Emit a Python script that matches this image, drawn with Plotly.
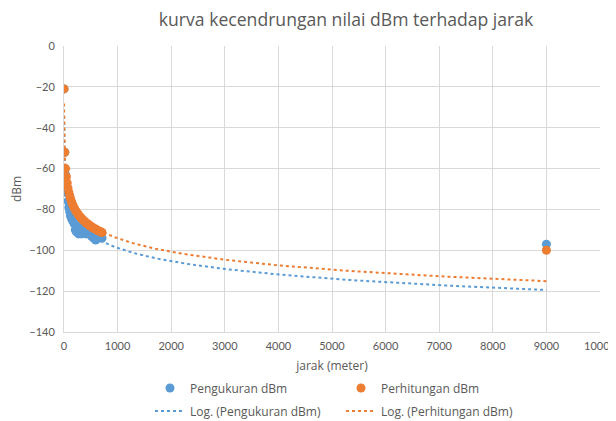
"""Scatter of measured vs calculated dBm against distance, with Excel-style log trendlines."""

import numpy as np
import plotly.graph_objects as go

BLUE = "#5B9BD5"
ORANGE = "#ED7D31"
INK = "#595959"
GRID = "#D9D9D9"
FONT = "Open Sans"

# measured (Pengukuran) points
ukur_jarak = [1, 15, 30, 45, 60, 75, 90, 105, 120, 135,
              150, 170, 190, 210, 230, 250, 270, 290, 310, 330,
              350, 370, 390, 410, 430, 450, 470, 490, 510, 530,
              550, 570, 590, 610, 630, 650, 670, 690, 710, 9000]
ukur_dbm = [-21, -52, -63, -68, -72, -76, -79, -81, -83, -84,
            -85, -86, -87, -90, -91, -90, -92, -91, -89, -92,
            -91, -90, -91, -92, -91, -90, -91, -92, -93, -92,
            -94, -93, -95, -94, -93, -92, -94, -93, -94, -97]

# calculated (Perhitungan) points
hitung_jarak = [1, 15, 30, 45, 60, 75, 90, 105, 120, 135,
                150, 170, 190, 210, 230, 250, 270, 290, 310, 330,
                350, 370, 390, 410, 430, 450, 470, 490, 510, 530,
                550, 570, 590, 610, 630, 650, 670, 690, 710, 9000]
hitung_dbm = [-21, -52, -60, -64, -67, -69.5, -71.5, -73, -74.5, -75.8,
              -77, -78.2, -79.3, -80.3, -81.1, -81.9, -82.6, -83.3, -83.9, -84.5,
              -85, -85.5, -86, -86.5, -86.9, -87.3, -87.7, -88.1, -88.4, -88.8,
              -89.1, -89.4, -89.7, -90, -90.3, -90.5, -90.8, -91, -91.3, -100]


def log_trend(x, y):
    """Least-squares fit y = a*ln(x) + b, sampled across the data range."""
    a, b = np.polyfit(np.log(x), y, 1)
    xs = np.geomspace(min(x), max(x), 400)
    return xs, a * np.log(xs) + b


fig = go.Figure()

tx, ty = log_trend(ukur_jarak, ukur_dbm)
fig.add_scatter(x=tx, y=ty, mode="lines", line=dict(color=BLUE, width=2, dash="dot"),
                name="Log. (Pengukuran dBm)", legend="legend2", hoverinfo="skip")
tx, ty = log_trend(hitung_jarak, hitung_dbm)
fig.add_scatter(x=tx, y=ty, mode="lines", line=dict(color=ORANGE, width=2, dash="dot"),
                name="Log. (Perhitungan dBm)", legend="legend2", hoverinfo="skip")

fig.add_scatter(x=ukur_jarak, y=ukur_dbm, mode="markers",
                marker=dict(color=BLUE, size=9), name="Pengukuran dBm")
fig.add_scatter(x=hitung_jarak, y=hitung_dbm, mode="markers",
                marker=dict(color=ORANGE, size=9), name="Perhitungan dBm")

legend_common = dict(
    orientation="h", xanchor="left", yanchor="middle", entrywidth=146,
    font=dict(family=FONT, size=12, color=INK), bgcolor="rgba(0,0,0,0)",
    traceorder="normal",
)

# the page body has an 8px margin, so the figure is 8px smaller than the window
fig.update_layout(
    width=608,
    height=413,
    paper_bgcolor="white",
    plot_bgcolor="white",
    margin=dict(l=56, r=16, t=38, b=89, autoexpand=False),
    font=dict(family=FONT, color=INK),
    title=dict(text="kurva kecendrungan nilai dBm terhadap jarak", x=0.556, xanchor="center",
               y=0.972, yanchor="middle", font=dict(family=FONT, size=17.6, color=INK)),
    legend=dict(x=(142 - 56) / 536, y=(324 - 380) / 286, **legend_common),
    legend2=dict(x=(142 - 56) / 536, y=(324 - 403) / 286, **legend_common),
)
fig.update_xaxes(
    range=[0, 10000], dtick=1000, tickformat="d", showgrid=True, gridcolor=GRID,
    zeroline=False, showline=True, linecolor=GRID, ticks="", automargin=False,
    ticklabelstandoff=4, ticklabeloverflow="allow",
    tickfont=dict(family="Lato", size=11, color=INK),
    title=dict(text="jarak (meter)", font=dict(size=12, color=INK), standoff=10),
)
fig.update_yaxes(
    range=[-140, 0], dtick=20, showgrid=True, gridcolor=GRID, zeroline=False,
    showline=True, linecolor=GRID, ticks="", automargin=False,
    ticklabelstandoff=6, tickfont=dict(family="Lato", size=11, color=INK),
    title=dict(text="dBm", font=dict(size=12, color=INK), standoff=22),
)

fig.write_html("out.html")
